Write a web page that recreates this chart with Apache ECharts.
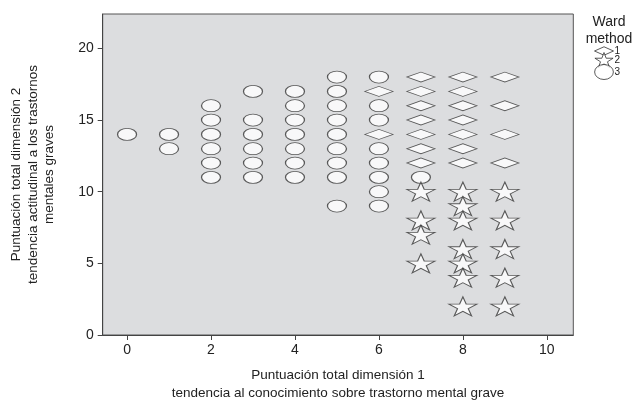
<!DOCTYPE html>
<html>
<head>
<meta charset="utf-8">
<script src="https://cdn.jsdelivr.net/npm/echarts@6/dist/echarts.min.js"></script>
<style>html,body{margin:0;padding:0;background:#fff;}#c{width:632px;height:401px;}</style>
</head>
<body>
<div id="c"></div>
<script>
// Cluster 1 (diamonds): [dim1, dim2]
var cluster1 = [
  [6,17],[6,14],
  [7,18],[7,17],[7,16],[7,15],[7,14],[7,13],[7,12],
  [8,18],[8,17],[8,16],[8,15],[8,14],[8,13],[8,12],
  [9,18],[9,16],[9,14],[9,12]
];
// Cluster 2 (stars)
var cluster2 = [
  [7,10],[7,8],[7,7],[7,5],
  [8,10],[8,9],[8,8],[8,6],[8,5],[8,4],[8,2],
  [9,10],[9,8],[9,6],[9,4],[9,2]
];
// Cluster 3 (ovals)
var cluster3 = [
  [0,14],
  [1,14],[1,13],
  [2,16],[2,15],[2,14],[2,13],[2,12],[2,11],
  [3,17],[3,15],[3,14],[3,13],[3,12],[3,11],
  [4,17],[4,16],[4,15],[4,14],[4,13],[4,12],[4,11],
  [5,18],[5,17],[5,16],[5,15],[5,14],[5,13],[5,12],[5,11],[5,9],
  [6,18],[6,16],[6,15],[6,13],[6,12],[6,11],[6,10],[6,9],
  [7,11]
];
var xTicks = [0,2,4,6,8,10];
var yTicks = [0,5,10,15,20];
var clusterNames = ['1','2','3'];

var FONT = "'Liberation Sans', Arial, Helvetica, sans-serif";
var diamondPath = 'path://M0,5 L10,0 L20,5 L10,10 Z';
var starPath = 'path://M50,0 L61.23,34.55 L97.55,34.55 L68.16,55.9 L79.39,90.45 L50,69.1 L20.61,90.45 L31.84,55.9 L2.45,34.55 L38.77,34.55 Z';
var ovalPath = 'path://M0,5 A10,5 0 1,0 20,5 A10,5 0 1,0 0,5 Z';
var legendDiamond = 'path://M0,4 L9,0 L18,4 L9,8 Z';
var legendStar = 'path://M50,0 L61.23,30 L97.55,30 L68.16,48.5 L79.39,78.5 L50,60 L20.61,78.5 L31.84,48.5 L2.45,30 L38.77,30 Z';
var legendOval = 'path://M0,6 A7.5,6 0 1,0 15,6 A7.5,6 0 1,0 0,6 Z';
var markStyle = {color:'#ffffff', borderColor:'#333333', borderWidth:1};

var chart = echarts.init(document.getElementById('c'), null, {renderer:'canvas'});
chart.setOption({
  animation:false,
  textStyle:{fontFamily:FONT},
  title:{
    text:'Ward\nmethod', left:604, top:9, textAlign:'center',
    textStyle:{fontFamily:FONT, fontSize:14, fontWeight:'normal', color:'#222', lineHeight:17}
  },
  legend:{
    orient:'vertical', left:594, top:46, itemWidth:19, itemHeight:15, itemGap:-4, padding:0,
    textStyle:{fontFamily:FONT, fontSize:10, color:'#222', lineHeight:10, padding:[0,0,0,-4]},
    data:[
      {name:'1', icon:legendDiamond},
      {name:'2', icon:legendStar},
      {name:'3', icon:legendOval}
    ],
    itemStyle:markStyle
  },
  grid:{
    left:102.7, top:14, right:58.7, bottom:66,
    outerBoundsMode:'none', containLabel:false,
    show:true, backgroundColor:'#dcdddf', borderColor:'#555', borderWidth:1
  },
  xAxis:{
    type:'value', min:-0.58, max:10.63,
    name:'Puntuación total dimensión 1\ntendencia al conocimiento sobre trastorno mental grave',
    nameLocation:'middle', nameGap:31,
    nameTextStyle:{fontFamily:FONT, fontSize:13.5, color:'#222', lineHeight:18, verticalAlign:'top'},
    axisLine:{show:true, onZero:false, lineStyle:{color:'#444', width:1}},
    axisTick:{show:true, length:5, inside:false, customValues:xTicks, lineStyle:{color:'#444'}},
    axisLabel:{customValues:xTicks, fontFamily:FONT, fontSize:14, color:'#222', margin:8},
    splitLine:{show:false}
  },
  yAxis:{
    type:'value', min:0, max:22.4,
    name:'Puntuación total dimensión 2\ntendencia actitudinal a los trastornos\nmentales graves',
    nameLocation:'middle', nameGap:45,
    nameTextStyle:{fontFamily:FONT, fontSize:13.5, color:'#222', lineHeight:16.5},
    axisLine:{show:true, onZero:false, lineStyle:{color:'#444', width:1}},
    axisTick:{show:true, length:5, inside:false, customValues:yTicks, lineStyle:{color:'#444'}},
    axisLabel:{customValues:yTicks, fontFamily:FONT, fontSize:14, color:'#222', margin:9},
    splitLine:{show:false}
  },
  series:[
    {name:clusterNames[2], type:'scatter', data:cluster3, symbol:ovalPath, symbolSize:[19,12], itemStyle:markStyle, z:2},
    {name:clusterNames[0], type:'scatter', data:cluster1, symbol:diamondPath, symbolSize:[28,10], itemStyle:markStyle, z:3},
    {name:clusterNames[1], type:'scatter', data:cluster2, symbol:starPath, symbolSize:[28,19], itemStyle:markStyle, z:4}
  ]
});
</script>
</body>
</html>
